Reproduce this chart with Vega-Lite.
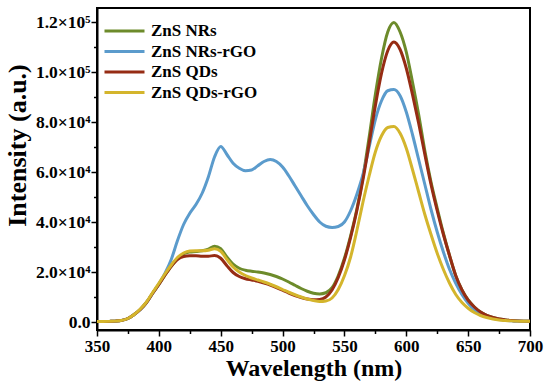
{
  "$schema": "https://vega.github.io/schema/vega-lite/v6.json",
  "width": 433,
  "height": 322,
  "autosize": {"type": "none"},
  "padding": {"left": 97, "top": 8, "right": 20, "bottom": 56},
  "background": "white",
  "config": {"view": {"stroke": "black", "strokeWidth": 2}, "font": "Liberation Serif"},
  "data": {"values": [
    {"w":350,"NRs":200,"NRs_rGO":200,"QDs":200,"QDs_rGO":200},
    {"w":355,"NRs":200,"NRs_rGO":200,"QDs":200,"QDs_rGO":200},
    {"w":360,"NRs":250,"NRs_rGO":250,"QDs":250,"QDs_rGO":250},
    {"w":365,"NRs":350,"NRs_rGO":350,"QDs":350,"QDs_rGO":350},
    {"w":370,"NRs":650,"NRs_rGO":650,"QDs":650,"QDs_rGO":650},
    {"w":375,"NRs":1400,"NRs_rGO":1400,"QDs":1400,"QDs_rGO":1400},
    {"w":380,"NRs":3000,"NRs_rGO":3000,"QDs":3000,"QDs_rGO":3000},
    {"w":385,"NRs":5000,"NRs_rGO":5000,"QDs":5000,"QDs_rGO":5200},
    {"w":390,"NRs":7800,"NRs_rGO":7800,"QDs":7800,"QDs_rGO":8000},
    {"w":395,"NRs":11500,"NRs_rGO":11500,"QDs":11500,"QDs_rGO":11800},
    {"w":400,"NRs":15000,"NRs_rGO":15200,"QDs":15000,"QDs_rGO":15500},
    {"w":405,"NRs":18800,"NRs_rGO":19500,"QDs":18800,"QDs_rGO":19300},
    {"w":410,"NRs":22300,"NRs_rGO":25000,"QDs":22300,"QDs_rGO":22800},
    {"w":415,"NRs":25200,"NRs_rGO":32500,"QDs":25000,"QDs_rGO":25800},
    {"w":420,"NRs":27300,"NRs_rGO":39000,"QDs":26200,"QDs_rGO":27600},
    {"w":425,"NRs":28000,"NRs_rGO":43500,"QDs":26500,"QDs_rGO":28400},
    {"w":430,"NRs":28200,"NRs_rGO":47000,"QDs":26500,"QDs_rGO":28500},
    {"w":435,"NRs":28500,"NRs_rGO":51500,"QDs":26300,"QDs_rGO":28500},
    {"w":440,"NRs":29100,"NRs_rGO":58000,"QDs":26300,"QDs_rGO":28700},
    {"w":445,"NRs":30300,"NRs_rGO":66000,"QDs":26600,"QDs_rGO":29300},
    {"w":450,"NRs":29300,"NRs_rGO":70200,"QDs":25500,"QDs_rGO":28300},
    {"w":455,"NRs":26000,"NRs_rGO":67000,"QDs":22500,"QDs_rGO":25000},
    {"w":460,"NRs":23200,"NRs_rGO":63500,"QDs":19800,"QDs_rGO":22000},
    {"w":465,"NRs":21500,"NRs_rGO":61500,"QDs":18200,"QDs_rGO":20000},
    {"w":470,"NRs":20700,"NRs_rGO":60500,"QDs":17300,"QDs_rGO":18600},
    {"w":475,"NRs":20300,"NRs_rGO":60800,"QDs":16800,"QDs_rGO":17600},
    {"w":480,"NRs":20000,"NRs_rGO":62500,"QDs":16300,"QDs_rGO":16800},
    {"w":485,"NRs":19600,"NRs_rGO":64200,"QDs":15600,"QDs_rGO":16000},
    {"w":490,"NRs":19000,"NRs_rGO":65000,"QDs":14800,"QDs_rGO":15100},
    {"w":495,"NRs":18200,"NRs_rGO":64200,"QDs":13800,"QDs_rGO":14100},
    {"w":500,"NRs":17200,"NRs_rGO":62000,"QDs":12700,"QDs_rGO":13000},
    {"w":505,"NRs":16000,"NRs_rGO":58500,"QDs":11600,"QDs_rGO":11900},
    {"w":510,"NRs":14700,"NRs_rGO":54500,"QDs":10600,"QDs_rGO":10900},
    {"w":515,"NRs":13400,"NRs_rGO":50500,"QDs":9800,"QDs_rGO":10000},
    {"w":520,"NRs":12300,"NRs_rGO":46500,"QDs":9200,"QDs_rGO":9200},
    {"w":525,"NRs":11500,"NRs_rGO":43000,"QDs":8900,"QDs_rGO":8600},
    {"w":530,"NRs":11200,"NRs_rGO":40000,"QDs":9000,"QDs_rGO":8200},
    {"w":535,"NRs":11700,"NRs_rGO":38300,"QDs":10000,"QDs_rGO":8400},
    {"w":540,"NRs":13700,"NRs_rGO":37800,"QDs":12800,"QDs_rGO":9600},
    {"w":545,"NRs":18500,"NRs_rGO":38200,"QDs":17800,"QDs_rGO":13000},
    {"w":550,"NRs":25500,"NRs_rGO":40000,"QDs":24800,"QDs_rGO":18500},
    {"w":555,"NRs":34500,"NRs_rGO":44500,"QDs":33800,"QDs_rGO":26000},
    {"w":560,"NRs":45000,"NRs_rGO":51000,"QDs":44500,"QDs_rGO":36500},
    {"w":565,"NRs":58000,"NRs_rGO":59000,"QDs":57000,"QDs_rGO":48000},
    {"w":570,"NRs":74000,"NRs_rGO":70000,"QDs":71500,"QDs_rGO":58500},
    {"w":575,"NRs":91000,"NRs_rGO":81000,"QDs":86500,"QDs_rGO":68000},
    {"w":580,"NRs":105500,"NRs_rGO":88500,"QDs":99500,"QDs_rGO":74500},
    {"w":585,"NRs":116000,"NRs_rGO":92500,"QDs":108500,"QDs_rGO":77800},
    {"w":590,"NRs":119800,"NRs_rGO":93000,"QDs":112000,"QDs_rGO":78200},
    {"w":595,"NRs":116000,"NRs_rGO":90500,"QDs":109000,"QDs_rGO":75500},
    {"w":600,"NRs":108000,"NRs_rGO":84000,"QDs":101500,"QDs_rGO":69500},
    {"w":605,"NRs":96000,"NRs_rGO":75000,"QDs":91000,"QDs_rGO":61000},
    {"w":610,"NRs":83000,"NRs_rGO":65000,"QDs":79500,"QDs_rGO":52000},
    {"w":615,"NRs":68500,"NRs_rGO":55000,"QDs":67000,"QDs_rGO":43000},
    {"w":620,"NRs":56000,"NRs_rGO":45000,"QDs":55000,"QDs_rGO":35000},
    {"w":625,"NRs":45500,"NRs_rGO":36000,"QDs":44500,"QDs_rGO":27500},
    {"w":630,"NRs":35500,"NRs_rGO":28000,"QDs":35000,"QDs_rGO":21000},
    {"w":635,"NRs":26500,"NRs_rGO":21000,"QDs":26500,"QDs_rGO":15500},
    {"w":640,"NRs":18500,"NRs_rGO":15500,"QDs":18500,"QDs_rGO":11000},
    {"w":645,"NRs":12800,"NRs_rGO":11000,"QDs":12800,"QDs_rGO":7800},
    {"w":650,"NRs":8800,"NRs_rGO":7500,"QDs":8700,"QDs_rGO":5500},
    {"w":655,"NRs":6000,"NRs_rGO":5000,"QDs":6000,"QDs_rGO":3800},
    {"w":660,"NRs":4000,"NRs_rGO":3400,"QDs":4000,"QDs_rGO":2600},
    {"w":665,"NRs":2700,"NRs_rGO":2300,"QDs":2700,"QDs_rGO":1800},
    {"w":670,"NRs":1800,"NRs_rGO":1500,"QDs":1800,"QDs_rGO":1200},
    {"w":675,"NRs":1200,"NRs_rGO":1000,"QDs":1200,"QDs_rGO":800},
    {"w":680,"NRs":850,"NRs_rGO":700,"QDs":850,"QDs_rGO":600},
    {"w":685,"NRs":600,"NRs_rGO":500,"QDs":600,"QDs_rGO":450},
    {"w":690,"NRs":450,"NRs_rGO":380,"QDs":450,"QDs_rGO":350},
    {"w":695,"NRs":350,"NRs_rGO":300,"QDs":350,"QDs_rGO":280},
    {"w":700,"NRs":280,"NRs_rGO":250,"QDs":280,"QDs_rGO":250}
  ]},
  "transform": [{"fold": ["NRs", "NRs_rGO", "QDs", "QDs_rGO"], "as": ["series", "intensity"]}],
  "mark": {"type": "line", "strokeWidth": 3, "interpolate": "monotone"},
  "encoding": {
    "x": {
      "field": "w", "type": "quantitative",
      "scale": {"domain": [350, 700], "nice": false, "zero": false},
      "axis": {
        "title": "Wavelength (nm)",
        "values": [350,375,400,425,450,475,500,525,550,575,600,625,650,675,700],
        "labelExpr": "datum.value % 50 == 0 ? datum.label : ''",
        "tickSize": {"condition": {"test": "datum.value % 50 == 0", "value": 6}, "value": 3.5},
        "tickColor": "black", "tickWidth": 1.5,
        "domainColor": "black", "domainWidth": 2,
        "labelFont": "Liberation Serif", "labelFontWeight": "bold", "labelFontSize": 17, "labelColor": "black",
        "labelPadding": 2, "labelFlush": false, "labelOverlap": false,
        "titleFont": "Liberation Serif", "titleFontWeight": "bold", "titleFontSize": 24, "titleColor": "black",
        "titlePadding": 2, "grid": false
      }
    },
    "y": {
      "field": "intensity", "type": "quantitative",
      "scale": {"domain": [-3200, 125600], "nice": false, "zero": false},
      "axis": {
        "title": "Intensity (a.u.)",
        "values": [0,10000,20000,30000,40000,50000,60000,70000,80000,90000,100000,110000,120000],
        "labelExpr": "datum.value == 0 ? '0.0' : (datum.value % 20000 != 0 ? '' : (datum.value < 100000 ? format(datum.value/10000, '.1f') + '×10⁴' : format(datum.value/100000, '.1f') + '×10⁵'))",
        "tickSize": {"condition": {"test": "datum.value % 20000 == 0", "value": 6}, "value": 3.5},
        "tickColor": "black", "tickWidth": 1.5,
        "domainColor": "black", "domainWidth": 2,
        "labelFont": "Liberation Serif", "labelFontWeight": "bold", "labelFontSize": 17.5, "labelColor": "black",
        "labelPadding": 1, "labelOverlap": false, "labelFlush": false,
        "titleFont": "Liberation Serif", "titleFontWeight": "bold", "titleFontSize": 26, "titleColor": "black",
        "titleX": -67, "titleY": 137, "grid": false
      }
    },
    "color": {
      "field": "series", "type": "nominal",
      "scale": {"domain": ["NRs", "NRs_rGO", "QDs", "QDs_rGO"], "range": ["#6d8b2b", "#5b9bcc", "#962c14", "#d4b52c"]},
      "legend": {
        "orient": "none", "legendX": 6, "legendY": 13, "title": null,
        "symbolType": "stroke", "symbolSize": 1600, "symbolStrokeWidth": 3, "clipHeight": 20, "rowPadding": 0.5,
        "labelFont": "Liberation Serif", "labelFontWeight": "bold", "labelFontSize": 17, "labelColor": "black", "labelOffset": 5,
        "padding": 0,
        "labelExpr": "{'NRs': 'ZnS NRs', 'NRs_rGO': 'ZnS NRs-rGO', 'QDs': 'ZnS QDs', 'QDs_rGO': 'ZnS QDs-rGO'}[datum.label]"
      }
    }
  }
}
